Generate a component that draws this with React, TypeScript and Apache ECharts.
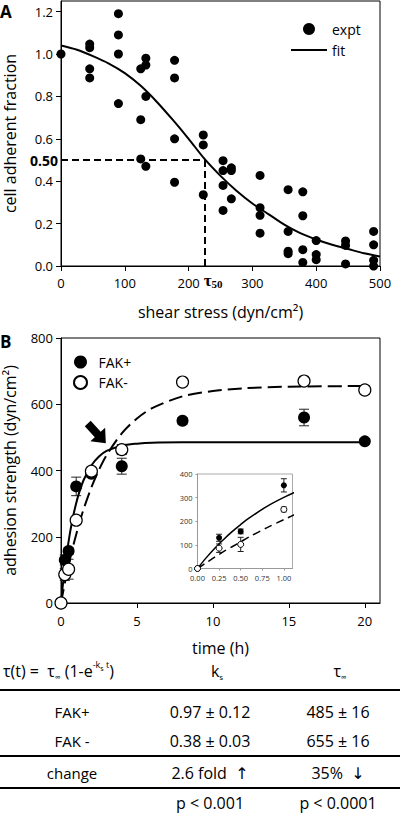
import React, { useEffect, useRef } from 'react';
import * as echarts from 'echarts';

const FONT = '"Open Sans", "DejaVu Sans", sans-serif';
const SERIF = '"Liberation Serif", "DejaVu Serif", serif';

// ---------- Panel A data ----------
const shearStress = [0, 45, 45, 45, 45, 90, 90, 90, 90, 125, 125, 125, 133, 133, 133, 133, 178, 178, 178, 178, 223, 223, 223, 254, 254, 254, 254, 267, 267, 267, 312, 312, 312, 312, 356, 356, 356, 356, 379, 379, 379, 379, 400, 400, 400, 446, 446, 446, 490, 490, 490, 490];
const adherentFraction = [1.0, 1.047, 1.03, 0.93, 0.887, 1.19, 1.09, 1.0, 0.766, 0.93, 0.69, 0.505, 0.98, 0.948, 0.8, 0.47, 0.97, 0.887, 0.6, 0.395, 0.618, 0.571, 0.336, 0.497, 0.45, 0.38, 0.262, 0.463, 0.45, 0.317, 0.427, 0.275, 0.239, 0.155, 0.36, 0.163, 0.07, 0.058, 0.35, 0.237, 0.077, 0.017, 0.12, 0.054, 0.03, 0.118, 0.097, 0.01, 0.163, 0.1, 0.027, 0.0];
const fitShear = [0, 25, 50, 75, 100, 125, 150, 175, 200, 225, 250, 275, 300, 325, 350, 375, 400, 425, 450, 475, 500];
const fitFraction = [1.04, 1.02, 0.99, 0.955, 0.91, 0.85, 0.775, 0.69, 0.6, 0.505, 0.425, 0.355, 0.295, 0.245, 0.195, 0.155, 0.125, 0.1, 0.08, 0.06, 0.045];
const TAU50 = 226;
const HALF = 0.5;

// ---------- Panel B data ----------
const timeH = [0, 0.25, 0.5, 1, 2, 4, 8, 16, 20];
const fakPlus = [0, 130, 157, 352, 390, 413, 550, 560, 488];
const fakPlusErr = [0, 15, 10, 28, 10, 24, 10, 25, 8];
const fakMinus = [0, 86, 102, 250, 398, 463, 667, 670, 643];
const fakMinusErr = [0, 18, 30, 10, 10, 15, 10, 10, 12];
const fitTime = [0, 0.1, 0.2, 0.3, 0.4, 0.5, 0.6, 0.8, 1.0, 1.2, 1.5, 2, 2.5, 3, 4, 5, 6, 8, 10, 12, 15, 20];
const fitPlus = [0, 45, 86, 122, 156, 186, 214, 262, 301, 334, 372, 415, 442, 459, 475, 481, 484, 485, 485, 485, 485, 485];
const fitMinus = [0, 24, 48, 71, 92, 113, 134, 172, 207, 240, 285, 349, 402, 446, 512, 557, 588, 624, 640, 648, 653, 655];
const INSET_MAX_T = 1.1;

// ---------- Table ----------
const tableRowLabels = ['FAK+', 'FAK -', 'change', ''];
const tableKs = ['0.97 ± 0.12', '0.38 ± 0.03', '2.6 fold  ↑', 'p < 0.001'];
const tableTau = ['485 ± 16', '655 ± 16', '35%  ↓', 'p < 0.0001'];

const pairs = (xs: number[], ys: number[]) => xs.map((x, i) => [x, ys[i]]);
const triples = (xs: number[], ys: number[], es: number[]) => xs.map((x, i) => [x, ys[i], es[i]]);

function makeErrRender(cap: number) {
  return (params: any, api: any) => {
    const x = api.value(0);
    const y = api.value(1);
    const e = api.value(2);
    if (!e) return null;
    const top = api.coord([x, y + e]);
    const bot = api.coord([x, y - e]);
    const st = { stroke: '#222', lineWidth: 1 };
    return {
      type: 'group',
      children: [
        { type: 'line', shape: { x1: top[0], y1: top[1], x2: bot[0], y2: bot[1] }, style: st },
        { type: 'line', shape: { x1: top[0] - cap, y1: top[1], x2: top[0] + cap, y2: top[1] }, style: st },
        { type: 'line', shape: { x1: bot[0] - cap, y1: bot[1], x2: bot[0] + cap, y2: bot[1] }, style: st },
      ],
    };
  };
}

export default function App() {
  const ref = useRef<HTMLDivElement>(null);
  useEffect(() => {
    document.body.style.margin = '0';
    if (!ref.current) return;
    const chart = echarts.init(ref.current, null, { renderer: 'svg' });

    const axisLabel = { color: '#000', fontSize: 13, fontFamily: FONT };
    const axisLine = { show: true, lineStyle: { color: '#000', width: 1 } };
    const axisTick = { show: true, inside: false, length: 5, lineStyle: { color: '#000' } };
    const nameStyle = { color: '#000', fontSize: 16, fontFamily: FONT };
    const insetLabel = { color: '#333', fontFamily: FONT };
    const insetLine = { show: true, lineStyle: { color: '#999', width: 1 } };

    const insetIdx = timeH.map((t, i) => i).filter((i) => timeH[i] <= INSET_MAX_T);
    const sel = (arr: number[]) => insetIdx.map((i) => arr[i]);

    const rowY = [712, 741, 773, 803];
    const tableGraphics: any[] = [];
    tableRowLabels.forEach((t, i) => {
      if (t) tableGraphics.push({ type: 'text', x: 72, y: rowY[i], style: { text: t, align: 'center', verticalAlign: 'middle', fontSize: 15, fontFamily: FONT, fill: '#000' } });
      tableGraphics.push({ type: 'text', x: 210, y: rowY[i], style: { text: tableKs[i], align: 'center', verticalAlign: 'middle', fontSize: 16, fontFamily: FONT, fill: '#000' } });
      tableGraphics.push({ type: 'text', x: 338, y: rowY[i], style: { text: tableTau[i], align: 'center', verticalAlign: 'middle', fontSize: 16, fontFamily: FONT, fill: '#000' } });
    });
    const richBase = {
      n: { fontSize: 16, fontFamily: FONT, lineHeight: 22, verticalAlign: 'middle', fill: '#000' },
      sub: { fontSize: 8, fontFamily: FONT, lineHeight: 22, verticalAlign: 'bottom', padding: [0, 0, 2, 0], fill: '#000' },
      sup: { fontSize: 9, fontFamily: FONT, lineHeight: 22, verticalAlign: 'top', fill: '#000' },
      supsub: { fontSize: 7, fontFamily: FONT, lineHeight: 22, verticalAlign: 'top', padding: [5, 0, 0, 0], fill: '#000' },
    };
    tableGraphics.push(
      { type: 'text', x: 3, y: 671, style: { text: '{n|τ(t) =  τ}{sub|∞}{n| (1-e}{sup|-k}{supsub|s}{sup| t}{n|)}', rich: richBase, align: 'left', verticalAlign: 'middle' } },
      { type: 'text', x: 217, y: 671, style: { text: '{n|k}{sub|s}', rich: richBase, align: 'center', verticalAlign: 'middle' } },
      { type: 'text', x: 340, y: 671, style: { text: '{n|τ}{sub|∞}', rich: richBase, align: 'center', verticalAlign: 'middle' } },
      { type: 'line', shape: { x1: 0, y1: 690, x2: 400, y2: 690 }, style: { stroke: '#000', lineWidth: 2 } },
      { type: 'line', shape: { x1: 0, y1: 756, x2: 400, y2: 756 }, style: { stroke: '#000', lineWidth: 2 } },
      { type: 'line', shape: { x1: 0, y1: 788, x2: 400, y2: 788 }, style: { stroke: '#000', lineWidth: 2 } },
      { type: 'text', x: 0, y: 11, style: { text: 'A', fontSize: 17, fontWeight: 'bold', fontFamily: FONT, fill: '#000', verticalAlign: 'middle' } },
      { type: 'text', x: 0, y: 341, style: { text: 'B', fontSize: 17, fontWeight: 'bold', fontFamily: FONT, fill: '#000', verticalAlign: 'middle' } },
    );

    const option: any = {
      animation: false,
      backgroundColor: '#fff',
      textStyle: { fontFamily: FONT },
      grid: [
        { left: 61, top: 1, width: 319, height: 265, show: true, borderColor: '#000', borderWidth: 1, outerBoundsMode: 'none' },
        { left: 61, top: 338, width: 319, height: 265, show: true, borderColor: '#000', borderWidth: 1, outerBoundsMode: 'none' },
        { left: 197.5, top: 474, width: 95, height: 94.5, show: true, borderColor: '#aaa', borderWidth: 1, backgroundColor: '#fff', outerBoundsMode: 'none', z: 5 },
      ],
      xAxis: [
        { type: 'value', gridIndex: 0, min: 0, max: 500, interval: 100, axisLine, axisTick, splitLine: { show: false }, axisLabel: { ...axisLabel, margin: 10 }, name: 'shear stress (dyn/cm²)', nameLocation: 'middle', nameGap: 38, nameTextStyle: nameStyle },
        { type: 'value', gridIndex: 1, min: 0, max: 21, interval: 5, axisLine, axisTick, splitLine: { show: false }, axisLabel: { ...axisLabel, margin: 11, showMaxLabel: false }, name: 'time (h)', nameLocation: 'middle', nameGap: 37, nameTextStyle: nameStyle },
        { type: 'value', gridIndex: 2, min: 0, max: INSET_MAX_T, interval: 0.25, z: 6, axisLine: insetLine, axisTick: { show: true, length: 2, lineStyle: { color: '#999' } }, splitLine: { show: false }, axisLabel: { ...insetLabel, fontSize: 7.5, margin: 5, showMaxLabel: false, formatter: (v: number) => v.toFixed(2) } },
      ],
      yAxis: [
        { type: 'value', gridIndex: 0, min: 0, max: 1.25, interval: 0.2, axisLine, axisTick, splitLine: { show: false }, axisLabel: { ...axisLabel, margin: 8, showMaxLabel: false, formatter: (v: number) => v.toFixed(1) }, name: 'cell adherent fraction', nameLocation: 'middle', nameGap: 43, nameTextStyle: nameStyle },
        { type: 'value', gridIndex: 1, min: 0, max: 800, interval: 200, axisLine, axisTick, splitLine: { show: false }, axisLabel: { ...axisLabel, margin: 8 }, name: 'adhesion strength (dyn/cm²)', nameLocation: 'middle', nameGap: 43, nameTextStyle: nameStyle },
        { type: 'value', gridIndex: 2, min: 0, max: 400, interval: 100, z: 6, axisLine: insetLine, axisTick: { show: true, length: 2, lineStyle: { color: '#999' } }, splitLine: { show: false }, axisLabel: { ...insetLabel, fontSize: 7.5, margin: 5 } },
      ],
      legend: [
        { data: ['expt', { name: 'fit', itemStyle: { opacity: 0 } }], left: 285, top: 17, orient: 'vertical', itemWidth: 36, itemHeight: 12, itemGap: 7, textStyle: { fontSize: 14, color: '#000', fontFamily: FONT } },
        { data: ['FAK+', 'FAK-'], left: 68, top: 350, orient: 'vertical', itemWidth: 26, itemHeight: 13, itemGap: 6, textStyle: { fontSize: 14, color: '#000', fontFamily: FONT } },
      ],
      series: [
        { name: 'expt', type: 'scatter', xAxisIndex: 0, yAxisIndex: 0, symbolSize: 9, itemStyle: { color: '#000', opacity: 1 }, data: pairs(shearStress, adherentFraction), z: 3 },
        {
          name: 'fit', type: 'line', xAxisIndex: 0, yAxisIndex: 0, smooth: 0.3, symbol: 'none', lineStyle: { color: '#000', width: 2 }, itemStyle: { color: '#000' }, data: pairs(fitShear, fitFraction), z: 2,
          markLine: {
            silent: true, symbol: ['none', 'none'], animation: false,
            lineStyle: { color: '#000', width: 2, type: [7, 4] },
            label: { show: false },
            data: [
              [{ coord: [0, HALF], label: { show: true, position: 'start', distance: 3, formatter: '0.50', color: '#000', fontSize: 14, fontWeight: 'bold', fontFamily: FONT } }, { coord: [TAU50, HALF] }],
              [{ coord: [TAU50, HALF], label: { show: true, position: 'end', distance: 5, padding: [0, 0, 0, 16], formatter: '{t|τ}{s|50}', rich: { t: { fontFamily: SERIF, fontWeight: 'bold', fontSize: 17, color: '#000', verticalAlign: 'middle', lineHeight: 18 }, s: { fontFamily: SERIF, fontWeight: 'bold', fontSize: 11, color: '#000', verticalAlign: 'bottom', lineHeight: 18 } } } }, { coord: [TAU50, 0] }],
            ],
          },
        },
        { name: 'errPlus', type: 'custom', xAxisIndex: 1, yAxisIndex: 1, renderItem: makeErrRender(5), data: triples(timeH, fakPlus, fakPlusErr), z: 1, encode: { x: 0, y: 1 } },
        { name: 'errMinus', type: 'custom', xAxisIndex: 1, yAxisIndex: 1, renderItem: makeErrRender(5), data: triples(timeH, fakMinus, fakMinusErr), z: 1, encode: { x: 0, y: 1 } },
        { name: 'fitPlusLine', type: 'line', xAxisIndex: 1, yAxisIndex: 1, smooth: 0.3, symbol: 'none', lineStyle: { color: '#000', width: 2 }, data: pairs(fitTime, fitPlus), z: 2 },
        { name: 'fitMinusLine', type: 'line', xAxisIndex: 1, yAxisIndex: 1, smooth: 0.3, symbol: 'none', lineStyle: { color: '#000', width: 2, type: [14, 6] }, data: pairs(fitTime, fitMinus), z: 2 },
        { name: 'FAK+', type: 'scatter', xAxisIndex: 1, yAxisIndex: 1, symbolSize: 12, itemStyle: { color: '#000', opacity: 1 }, data: pairs(timeH, fakPlus), z: 3 },
        { name: 'FAK-', type: 'scatter', xAxisIndex: 1, yAxisIndex: 1, symbolSize: 12, itemStyle: { color: '#fff', borderColor: '#000', borderWidth: 1.2, opacity: 1 }, data: pairs(timeH, fakMinus), z: 3 },
        // inset
        { name: 'errPlusInset', type: 'custom', xAxisIndex: 2, yAxisIndex: 2, renderItem: makeErrRender(3), data: triples(sel(timeH), sel(fakPlus), sel(fakPlusErr)), z: 6, encode: { x: 0, y: 1 } },
        { name: 'errMinusInset', type: 'custom', xAxisIndex: 2, yAxisIndex: 2, renderItem: makeErrRender(3), data: triples(sel(timeH), sel(fakMinus), sel(fakMinusErr)), z: 6, encode: { x: 0, y: 1 } },
        { name: 'fitPlusInset', type: 'line', xAxisIndex: 2, yAxisIndex: 2, smooth: 0.3, symbol: 'none', clip: true, lineStyle: { color: '#000', width: 1.5 }, data: pairs(fitTime, fitPlus), z: 7 },
        { name: 'fitMinusInset', type: 'line', xAxisIndex: 2, yAxisIndex: 2, smooth: 0.3, symbol: 'none', clip: true, lineStyle: { color: '#000', width: 1.5, type: [8, 5] }, data: pairs(fitTime, fitMinus), z: 7 },
        { name: 'FAK+ inset', type: 'scatter', xAxisIndex: 2, yAxisIndex: 2, symbolSize: 6, itemStyle: { color: '#000', opacity: 1 }, data: pairs(sel(timeH), sel(fakPlus)), z: 8 },
        { name: 'FAK- inset', type: 'scatter', xAxisIndex: 2, yAxisIndex: 2, symbolSize: 6, itemStyle: { color: '#fff', borderColor: '#000', borderWidth: 1, opacity: 1 }, data: pairs(sel(timeH), sel(fakMinus)), z: 8 },
      ],
      graphic: tableGraphics,
    };
    chart.setOption(option);

    // arrow annotation in panel B (data coords of tail and tip)
    const tail = chart.convertToPixel({ gridIndex: 1 } as any, [1.76, 542]) as number[];
    const tip = chart.convertToPixel({ gridIndex: 1 } as any, [2.95, 482]) as number[];
    if (tail && tip) {
      const dx = tip[0] - tail[0];
      const dy = tip[1] - tail[1];
      const len = Math.sqrt(dx * dx + dy * dy) || 1;
      const ux = dx / len, uy = dy / len;
      const nx = -uy, ny = ux;
      const hl = 12, hw = 10, sw = 4;
      const hx = tip[0] - ux * hl, hy = tip[1] - uy * hl;
      const pts = [
        [tail[0] + nx * sw, tail[1] + ny * sw],
        [hx + nx * sw, hy + ny * sw],
        [hx + nx * hw, hy + ny * hw],
        [tip[0], tip[1]],
        [hx - nx * hw, hy - ny * hw],
        [hx - nx * sw, hy - ny * sw],
        [tail[0] - nx * sw, tail[1] - ny * sw],
      ];
      chart.setOption({ graphic: [...tableGraphics, { type: 'polygon', shape: { points: pts }, style: { fill: '#000' }, z: 10 }] });
    }

    return () => chart.dispose();
  }, []);
  return <div ref={ref} style={{ width: 400, height: 814 }} />;
}
